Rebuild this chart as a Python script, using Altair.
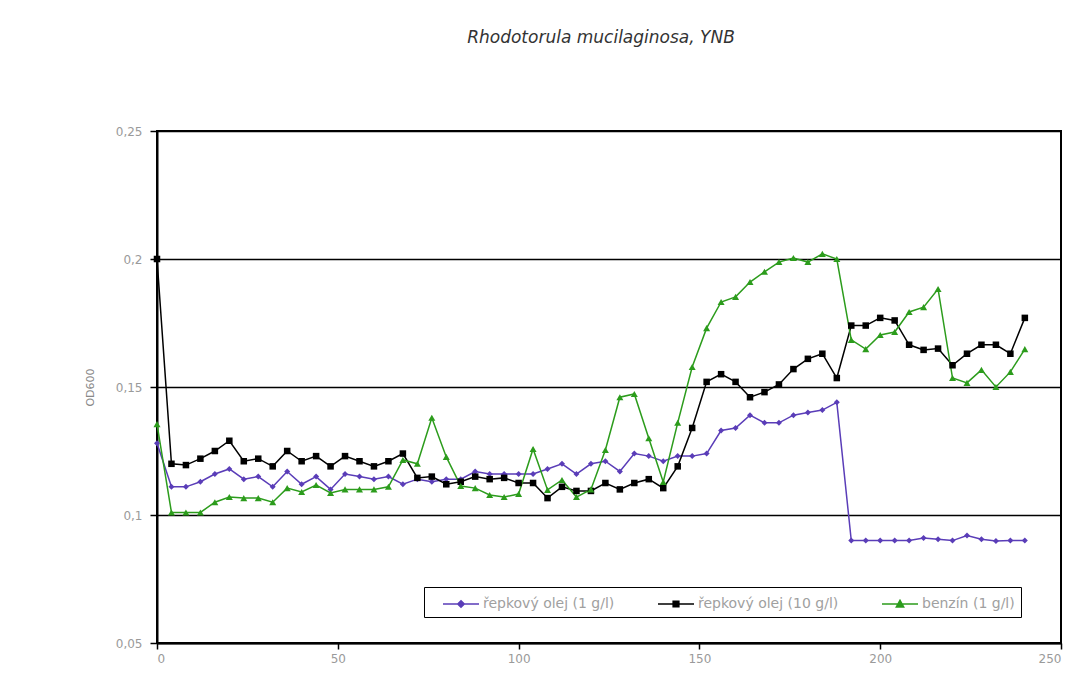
import altair as alt
import pandas as pd

hours = list(range(0, 241, 4))
series_names = ["řepkový olej (1 g/l)", "řepkový olej (10 g/l)", "benzín (1 g/l)"]

oil_1 = [0.128, 0.111, 0.111, 0.113, 0.116, 0.118, 0.114, 0.115, 0.111, 0.117,
         0.112, 0.115, 0.110, 0.116, 0.115, 0.114, 0.115, 0.112, 0.114, 0.113,
         0.114, 0.114, 0.117, 0.116, 0.116, 0.116, 0.116, 0.118, 0.120, 0.116,
         0.120, 0.121, 0.117, 0.124, 0.123, 0.121, 0.123, 0.123, 0.124, 0.133,
         0.134, 0.139, 0.136, 0.136, 0.139, 0.140, 0.141, 0.144, 0.090, 0.090,
         0.090, 0.090, 0.090, 0.091, 0.0905, 0.090, 0.092, 0.0905, 0.0898, 0.090,
         0.090]

oil_10 = [0.200, 0.120, 0.1195, 0.122, 0.125, 0.129, 0.121, 0.122, 0.119, 0.125,
          0.121, 0.123, 0.119, 0.123, 0.121, 0.119, 0.121, 0.124, 0.1145, 0.115,
          0.112, 0.113, 0.115, 0.114, 0.1145, 0.1125, 0.1125, 0.1066, 0.111, 0.1094,
          0.1094, 0.1125, 0.110, 0.1125, 0.114, 0.1105, 0.119, 0.134, 0.152, 0.155,
          0.152, 0.146, 0.148, 0.151, 0.157, 0.161, 0.163, 0.1535, 0.174, 0.174,
          0.177, 0.176, 0.1665, 0.1645, 0.165, 0.1585, 0.163, 0.1665, 0.1665, 0.163,
          0.177]

benzin = [0.1355, 0.101, 0.101, 0.101, 0.105, 0.107, 0.1066, 0.1066, 0.105, 0.1105,
          0.109, 0.1117, 0.1086, 0.110, 0.110, 0.110, 0.111, 0.1215, 0.120, 0.138,
          0.1227, 0.1113, 0.1105, 0.1078, 0.107, 0.1082, 0.1258, 0.1098, 0.1137, 0.107,
          0.110, 0.1254, 0.146, 0.1473, 0.130, 0.1129, 0.136, 0.1578, 0.173, 0.1832,
          0.1852, 0.191, 0.195, 0.1988, 0.2004, 0.1988, 0.202, 0.200, 0.1684, 0.1648,
          0.1703, 0.1715, 0.1793, 0.1812, 0.1883, 0.1535, 0.1516, 0.1567, 0.150, 0.1559,
          0.1648]

colors = ["#5a3db8", "#000000", "#2c9c1c"]
marker_shapes = ["diamond", "square", "triangle-up"]
marker_sizes = [36, 49, 56]
legend_shapes = [
    "M-1.8,0H1.8M0,-0.32L0.32,0L0,0.32L-0.32,0Z",
    "M-1.8,0H1.8M-0.28,-0.28H0.28V0.28H-0.28Z",
    "M-1.8,0H1.8M0,-0.36L0.36,0.3L-0.36,0.3Z",
]
y_ticks = [0.05, 0.1, 0.15, 0.2, 0.25]
x_ticks = [0, 50, 100, 150, 200, 250]

rows = []
for name, vals in zip(series_names, [oil_1, oil_10, benzin]):
    for h, v in zip(hours, vals):
        rows.append({"t": h, "od": v, "series": name})
df = pd.DataFrame(rows)

base = alt.Chart(df)

x_enc = alt.X("t:Q", scale=alt.Scale(domain=[0, 250], nice=False),
              axis=alt.Axis(values=x_ticks, title=None, grid=False, tickSize=6,
                            labelPadding=4))
y_enc = alt.Y("od:Q", scale=alt.Scale(domain=[0.05, 0.25], nice=False, zero=False),
              axis=alt.Axis(values=y_ticks, title="OD600", grid=True,
                            gridColor="black", gridWidth=1.6, tickSize=7,
                            labelPadding=8, titlePadding=20,
                            labelExpr="replace(format(datum.value, '.2~f'), '.', ',')"))
color_scale = alt.Scale(domain=series_names, range=colors)
color_enc = alt.Color("series:N", scale=color_scale, legend=None)

lines = base.mark_line(strokeWidth=1.5).encode(x=x_enc, y=y_enc, color=color_enc)

points = base.mark_point(filled=True, opacity=1).encode(
    x=x_enc, y=y_enc, color=color_enc,
    shape=alt.Shape("series:N", scale=alt.Scale(domain=series_names, range=marker_shapes),
                    legend=None),
    size=alt.Size("series:N", scale=alt.Scale(domain=series_names, range=marker_sizes),
                  legend=None),
)

leg = alt.Legend(
    title=None, orient="none", legendX=267, legendY=456,
    direction="horizontal", columns=3, columnPadding=30,
    symbolSize=400, symbolOffset=20, labelOffset=11, padding=6,
    labelFont="DejaVu Sans", labelFontSize=14, labelColor="#a0a0a0",
    strokeColor="black", fillColor="white",
    symbolOpacity=1, symbolStrokeWidth=1.6,
)

legend_layer = base.mark_point(filled=True, opacity=0).encode(
    x=x_enc, y=y_enc,
    color=alt.Color("series:N", scale=color_scale, legend=leg),
    stroke=alt.Stroke("series:N", scale=color_scale, legend=leg),
    shape=alt.Shape("series:N", scale=alt.Scale(domain=series_names, range=legend_shapes),
                    legend=leg),
)

chart = alt.layer(lines, points, legend_layer).resolve_scale(
    shape="independent", size="independent", color="independent", stroke="independent"
).properties(
    width=904, height=512,
    autosize=alt.AutoSizeParams(type="none"),
    padding={"left": 149, "top": 123, "right": 4, "bottom": 38},
    title=alt.Title("Rhodotorula mucilaginosa, YNB", font="DejaVu Sans", fontSize=17,
                    fontStyle="italic", fontWeight="normal", color="#333333",
                    anchor="middle", offset=78, dx=-8),
).configure_view(stroke="black", strokeWidth=2).configure_axis(
    domainColor="black", domainWidth=2, tickColor="black", tickWidth=1.5,
    labelColor="#9a9a9a", labelFont="DejaVu Sans", labelFontSize=12,
    titleColor="#888888", titleFont="DejaVu Sans", titleFontSize=11,
    titleFontWeight="normal",
)

chart.save("out.html", embed_options={"renderer": "svg", "actions": False})
